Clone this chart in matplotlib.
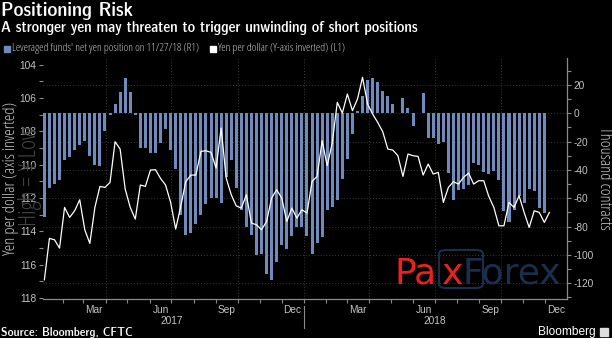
import matplotlib
matplotlib.use("Agg")
import matplotlib.pyplot as plt
import matplotlib.transforms as mtrans
from matplotlib import font_manager
from matplotlib.font_manager import FontProperties
from matplotlib.patches import FancyBboxPatch, Rectangle
import numpy as np
import pandas as pd

# ---------------- data ----------------
bar_start = "2017-01-06"
net_position = [-73.6, -52.9, -49.6, -47.0, -33.2, -30.8, -25.9, -22.6, -19.5, -30.1,
                -36.2, -36.9, -12.7, -1.0, 6.6, 15.3, 25.2, 15.0, -1.0, -24.2,
                -24.2, -28.0, -28.0, -21.2, -11.0, -25.9, -39.0, -71.9, -86.1, -84.5,
                -78.5, -71.8, -64.0, -60.0, -60.0, -63.3, -45.0, -33.0, -52.5, -68.0,
                -80.0, -86.0, -100.0, -99.5, -113.8, -117.8, -105.0, -93.0, -96.0, -87.0,
                -80.0, -80.0, -86.6, -99.5, -91.5, -87.2, -68.2, -66.5, -61.0, -46.6,
                -32.0, -14.8, 2.0, 12.2, 23.3, 25.2, 22.0, 15.8, 12.2, 6.8,
                0.5, 10.6, 3.5, -8.9, 0.5, 14.6, -17.2, -17.2, -21.9, -20.0,
                -42.0, -61.2, -54.1, -53.2, -50.8, -35.3, -36.5, -41.4, -43.0, -40.7,
                -47.0, -68.9, -76.5, -68.2, -58.4, -63.5, -53.6, -54.8, -66.6, -70.6]
yen_per_dollar = [116.9, 114.42, 114.5, 115.0, 112.56, 113.16, 112.76, 112.1, 113.9, 114.72,
                  112.56, 111.3, 111.36, 111.06, 108.62, 109.06, 111.46, 112.56, 113.26, 111.22,
                  111.3, 110.32, 110.3, 110.82, 111.22, 112.26, 113.86, 112.5, 111.02, 110.62,
                  110.62, 109.2, 109.16, 109.26, 110.2, 107.8, 110.8, 111.8, 112.47, 112.6,
                  111.8, 113.5, 113.6, 113.9, 113.4, 112.0, 111.5, 112.0, 113.4, 112.6,
                  113.2, 112.7, 112.9, 111.0, 110.7, 108.56, 110.06, 108.7, 106.26, 106.9,
                  105.76, 106.76, 106.06, 104.76, 106.36, 106.96, 107.46, 108.02, 109.06, 109.12,
                  109.46, 110.7, 109.36, 109.46, 109.5, 110.62, 109.96, 110.56, 110.46, 112.26,
                  111.36, 111.02, 111.16, 110.76, 110.5, 111.16, 110.96, 110.96, 111.9, 112.56,
                  113.66, 113.66, 112.26, 112.56, 111.86, 112.86, 113.76, 112.76, 112.86, 113.46,
                  112.86]
left_ticks = [104, 106, 108, 110, 112, 114, 116, 118]
right_ticks = [-120, -100, -80, -60, -40, -20, 0, 20]
month_labels = ["Mar", "Jun", "Sep", "Dec"]
years = ["2017", "2018"]

bar_dates = pd.date_range(bar_start, periods=len(net_position), freq="7D")
line_dates = pd.date_range(bar_start, periods=len(yen_per_dollar), freq="7D")

# ---------------- fonts ----------------
ttf = font_manager.fontManager.ttflist
names = {f.name for f in ttf}
def _w(f):
    if isinstance(f.weight, int):
        return f.weight
    return 700 if "bold" in str(f.weight) else 400

def find_narrow(bold):
    cands = []
    for f in ttf:
        nm = f.name.lower()
        if "serif" in nm or "mono" in nm:
            continue
        narrow = ("narrow" in nm or "condensed" in nm or
                  str(f.stretch) in ("condensed", "semi-condensed", "extra-condensed"))
        if not narrow:
            continue
        w = _w(f)
        if bold != (w >= 600):
            continue
        if "italic" in str(f.style) or "oblique" in str(f.style):
            continue
        score = 0
        if "liberation" in nm:
            score += 2
        if "sans" in nm:
            score += 1
        cands.append((score, f.fname))
    if not cands:
        return None
    cands.sort(reverse=True)
    return cands[0][1]

NARROW_R = find_narrow(False)
NARROW_B = find_narrow(True)
HAVE_NARROW = NARROW_R is not None and NARROW_B is not None
SANS = "Liberation Sans" if "Liberation Sans" in names else "DejaVu Sans"

def fp(size, bold=False, scale=0.8):
    if HAVE_NARROW:
        return FontProperties(fname=NARROW_B if bold else NARROW_R, size=size)
    return FontProperties(family="DejaVu Sans", weight="bold" if bold else "normal",
                          size=size * scale)

W, H = 612, 338
def fx(px):
    return px / W
def fy(py):
    return 1 - py / H

BG = "black"
TICKC = "#c4c4c4"
AXC = "#8a8a8a"
GRIDC = "#3a3a3a"
BARC = "#6f8bbd"

fig = plt.figure(figsize=(W / 100, H / 100), dpi=100, facecolor=BG)
ax_l, ax_r, ax_t, ax_b = 43.3, 566.7, 58, 299.3
ax = fig.add_axes([fx(ax_l), fy(ax_b), fx(ax_r - ax_l), (ax_b - ax_t) / H])
ax.set_facecolor(BG)
ax2 = ax.twinx()

tickfont = FontProperties(family=SANS, size=7.3)

# bars (right axis)
ax.bar(bar_dates, net_position, width=4.2, color=BARC, zorder=2)
ax.set_ylim(-131.4, 39.1)
ax.yaxis.tick_right()
ax.yaxis.set_label_position("right")
ax.set_yticks(right_ticks)
ax.set_yticklabels([str(v) for v in right_ticks], fontproperties=tickfont)
ax.set_yticks(np.arange(-130, 31, 10), minor=True)
ax.tick_params(axis="y", which="both", colors=AXC, labelcolor=TICKC,
               length=3, width=0.8, pad=2, direction="out")
ax.tick_params(axis="y", which="minor", labelright=False, labelleft=False)
ax.set_ylabel("Thousand contracts", rotation=270, color=TICKC,
              fontproperties=fp(12, scale=0.72), labelpad=13)

for y in right_ticks:
    ax.axhline(y, color=GRIDC, lw=0.7, ls=(0, (1, 2)), zorder=1)

start = pd.Timestamp("2017-01-04 12:00")
end = pd.Timestamp("2018-12-31")
ax.set_xlim(start, end)
for q in pd.date_range("2017-04-01", "2018-10-01", freq="QS"):
    ax.axvline(q, color=GRIDC, lw=0.7, ls=(0, (1, 2)), zorder=1)

month_starts = pd.date_range("2017-02-01", "2018-12-01", freq="MS")
ax.set_xticks(month_starts, minor=True)
mid, lab = [], []
for yr in (2017, 2018):
    for m, name in zip((3, 6, 9, 12), month_labels):
        mid.append(pd.Timestamp(year=yr, month=m, day=16))
        lab.append(name)
ax.set_xticks(mid)
ax.set_xticklabels(lab, fontproperties=tickfont)
ax.tick_params(axis="x", which="major", length=0, labelcolor=TICKC, pad=4)
ax.tick_params(axis="x", which="minor", length=3, color=AXC, width=0.8)

for s in ("top", "left"):
    ax.spines[s].set_visible(False)
for s in ("bottom", "right"):
    ax.spines[s].set_color(AXC)
    ax.spines[s].set_linewidth(0.9)

trans = mtrans.blended_transform_factory(ax.transData, fig.transFigure)
for yr, name in zip((2017, 2018), years):
    ax.text(pd.Timestamp(year=yr, month=7, day=1), fy(321), name, transform=trans,
            ha="center", va="center", color=TICKC, fontproperties=tickfont)
ax.plot([pd.Timestamp("2018-01-01")] * 2, [fy(306), fy(328)], transform=trans,
        color=AXC, lw=0.8, clip_on=False)

# line (left axis, inverted)
ax2.plot(line_dates, yen_per_dollar, color="white", lw=0.9, zorder=3)
ax2.set_ylim(118.07, 103.6)
ax2.yaxis.tick_left()
ax2.yaxis.set_label_position("left")
ax2.set_yticks(left_ticks)
ax2.set_yticklabels([str(v) for v in left_ticks], fontproperties=tickfont)
ax2.set_yticks(np.arange(104, 119, 1), minor=True)
ax2.tick_params(axis="y", which="both", colors=AXC, labelcolor=TICKC,
                length=3, width=0.8, pad=2, direction="out")
ax2.tick_params(axis="y", which="minor", labelleft=False, labelright=False)
for s in ax2.spines.values():
    s.set_visible(False)
ax2.set_xlim(start, end)

# faint annotation (behind)
fig.text(fx(30), fy(176), "High = \u00a5 Low", rotation=90, ha="center", va="center",
         color="#454545", fontproperties=fp(17.5, scale=0.75), zorder=0)
# left axis label
fig.text(fx(11), fy(178), "Yen per dollar (axis inverted)", rotation=90, ha="center",
         va="center", color=TICKC, fontproperties=fp(12, scale=0.75))

# titles
fig.text(fx(1), fy(16), "Positioning Risk", color="white",
         fontproperties=fp(15, bold=True, scale=0.7), ha="left", va="baseline")
fig.text(fx(1), fy(32), "A stronger yen may threaten to trigger unwinding of short positions",
         color="white", fontproperties=fp(11.2, bold=True, scale=0.7),
         ha="left", va="baseline")

# legend
fig.patches.append(Rectangle((fx(4), fy(52)), fx(6), 6 / H, transform=fig.transFigure,
                             color=BARC, figure=fig))
fig.text(fx(11.5), fy(49), "Leveraged funds' net yen position on 11/27/18 (R1)",
         color=TICKC, fontproperties=fp(8.1, scale=0.7), ha="left", va="center")
fig.patches.append(Rectangle((fx(210), fy(52)), fx(6), 6 / H, transform=fig.transFigure,
                             color="white", figure=fig))
fig.text(fx(217.5), fy(49), "Yen per dollar (Y-axis inverted) (L1)",
         color=TICKC, fontproperties=fp(8.1, scale=0.7), ha="left", va="center")

# footer
fig.text(fx(1), fy(333), "Source: Bloomberg, CFTC", color="white",
         fontproperties=fp(9, bold=True, scale=0.75), ha="left", va="center")
fig.text(fx(596), fy(334.5), "Bloomberg", color="white",
         fontproperties=FontProperties(family=SANS, size=8.6), ha="right", va="baseline")
fig.patches.append(Rectangle((fx(600), fy(335.5)), fx(8), 8 / H, transform=fig.transFigure,
                             color="#dddddd", figure=fig))

# watermark
wm = FontProperties(family="DejaVu Sans", size=26)
fig.text(fx(394), fy(284), "Pa", color="#e8231f", fontproperties=wm, ha="left", va="baseline")
fig.text(fx(442), fy(284), "x", color="#e8231f", fontproperties=wm, ha="left", va="baseline")
fig.text(fx(463), fy(284), "Forex", color="#1b2f4d", fontproperties=wm, ha="left", va="baseline")
fig.patches.append(FancyBboxPatch((fx(439), fy(288)), fx(44), 38 / H,
                                  boxstyle="round,pad=0,rounding_size=0.012",
                                  transform=fig.transFigure, fill=False,
                                  edgecolor="#1b2f4d", lw=1.5, figure=fig))

fig.savefig("out.png", dpi=100, facecolor=BG)
